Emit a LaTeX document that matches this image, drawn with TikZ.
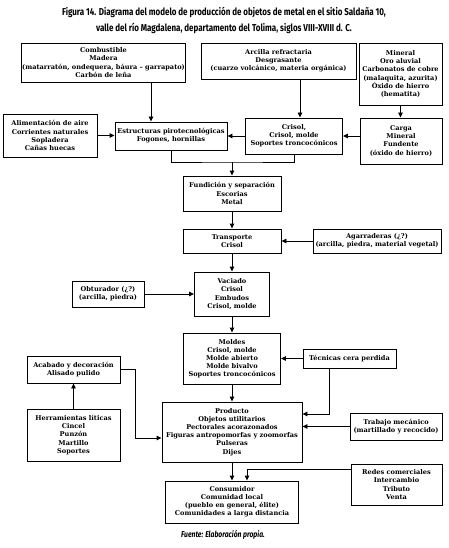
\documentclass[tikz,border=0pt]{standalone}
\usepackage{fontspec}
\setmainfont{DejaVu Serif}
\newfontfamily\titlefont[FakeStretch=0.8]{Fira Sans}
\usetikzlibrary{arrows.meta}
\begin{document}
\begin{tikzpicture}[x=1pt,y=-1pt,
  bx/.style={draw,line width=0.9pt,align=center,inner sep=0pt,
    font=\fontsize{6.6}{8.1}\selectfont\bfseries},
  arr/.style={line width=0.9pt,-{Triangle[length=5pt,width=4.5pt]}},
  ln/.style={line width=0.9pt}]
\useasboundingbox (0,0) rectangle (448,548);
% title
\node[font=\titlefont\fontsize{10}{16}\selectfont\bfseries,align=center] (title) at (224,20)
  {Figura 14. Diagrama del modelo de producción de objetos de metal en el sitio Saldaña 10,\\
   valle del río Magdalena, departamento del Tolima, siglos VIII-XVIII d. C.};
% boxes
\node[bx,minimum width=164,minimum height=39] (comb) at (103.5,62.5)
  {Combustible\\Madera\\(matarratón, ondequera, báura – garrapato)\\Carbón de leña};
\node[bx,minimum width=155,minimum height=36] (arc) at (278.5,61)
  {Arcilla refractaria\\Desgrasante\\(cuarzo volcánico, materia orgánica)};
\node[bx,minimum width=83,minimum height=62] (min) at (400.5,74)
  {Mineral\\Oro aluvial\\Carbonatos de cobre\\(malaquita, azurita)\\Óxido de hierro\\(hematita)};
\node[bx,minimum width=94,minimum height=43] (aire) at (50,135.5)
  {Alimentación de aire\\Corrientes naturales\\Sopladera\\Cañas huecas};
\node[bx,minimum width=112,minimum height=28] (estr) at (171,136)
  {Estructuras pirotecnológicas\\Fogones, hornillas};
\node[bx,minimum width=97,minimum height=36] (cris) at (294,136)
  {Crisol,\\Crisol, molde\\Soportes troncocónicos};
\node[bx,minimum width=82,minimum height=46] (carga) at (401,141)
  {Carga\\Mineral\\Fundente\\(óxido de hierro)};
\node[bx,minimum width=98,minimum height=35] (fund) at (232,193.5)
  {Fundición y separación\\Escorias\\Metal};
\node[bx,minimum width=98,minimum height=24] (trans) at (232,241)
  {Transporte\\Crisol};
\node[bx,minimum width=128,minimum height=24] (agarr) at (377,241)
  {Agarraderas (¿?)\\(arcilla, piedra, material vegetal)};
\node[bx,minimum width=75,minimum height=44] (vac) at (232,294)
  {Vaciado\\Crisol\\Embudos\\Crisol, molde};
\node[bx,minimum width=72,minimum height=26] (obt) at (108,294)
  {Obturador (¿?)\\(arcilla, piedra)};
\node[bx,minimum width=97,minimum height=51] (mold) at (232,358.5)
  {Moldes\\Crisol, molde\\Molde abierto\\Molde bivalvo\\Soportes troncocónicos};
\node[bx,minimum width=93,minimum height=19] (tec) at (349.5,358.5)
  {Técnicas cera perdida};
\node[bx,minimum width=93,minimum height=27] (acab) at (73.5,369.5)
  {Acabado y decoración\\Alisado pulido};
\node[bx,minimum width=93,minimum height=52] (herr) at (73.5,435)
  {Herramientas líticas\\Cincel\\Punzón\\Martillo\\Soportes};
\node[bx,minimum width=140,minimum height=60] (prod) at (232,432)
  {Producto\\Objetos utilitarios\\Pectorales acorazonados\\Figuras antropomorfas y zoomorfas\\Pulseras\\Dijes};
\node[bx,minimum width=92,minimum height=27] (trab) at (396,426.5)
  {Trabajo mecánico\\(martillado y recocido)};
\node[bx,minimum width=91,minimum height=41] (redes) at (396.5,484.5)
  {Redes comerciales\\Intercambio\\Tributo\\Venta};
\node[bx,minimum width=133,minimum height=42] (cons) at (232,502)
  {Consumidor\\Comunidad local\\(pueblo en general, élite)\\Comunidades a larga distancia};
% caption
\node[font=\titlefont\fontsize{8.5}{10}\selectfont\bfseries\itshape] (src) at (223,535)
  {Fuente: Elaboración propia.};
% connectors
\draw[arr] ([xshift=47.5pt]comb.south) -- ([xshift=47.5pt]comb.south |- estr.north);
\draw[arr] ([xshift=21.5pt]arc.south) -- ([xshift=21.5pt]arc.south |- cris.north);
\draw[arr] (min.south) -- (min.south |- carga.north);
\draw[arr] (aire.east) -- (aire.east -| estr.west);
\draw[arr] (cris.west) -- (cris.west -| estr.east);
\draw[arr] (cris.east -| carga.west) -- (cris.east);
\coordinate (j1) at (232,162);
\draw[ln] (estr.south) |- (j1) -| (cris.south);
\draw[arr] (j1) -- (fund.north);
\draw[arr] (fund.south) -- (trans.north);
\draw[arr] (agarr.west) -- (trans.east);
\draw[arr] (trans.south) -- (vac.north);
\draw[arr] (obt.east) -- (obt.east -| vac.west);
\draw[arr] (vac.south) -- (mold.north);
\draw[arr] (tec.west) -- (tec.west -| mold.east);
\draw[arr] (mold.south) -- (prod.north);
\draw[arr] ([xshift=-20pt]tec.south) |- ([yshift=18pt]prod.east);
\draw[arr] (trab.west) -- (trab.west -| prod.east);
\draw[arr] (acab.east) -- ++(15,0) |- ([yshift=-6pt]prod.west);
\draw[arr] (herr.north) -- (acab.south);
\draw[arr] (prod.south) -- (cons.north);
\draw[arr] ([yshift=15pt]redes.west) -| ([xshift=15pt]cons.north);
\end{tikzpicture}
\end{document}
